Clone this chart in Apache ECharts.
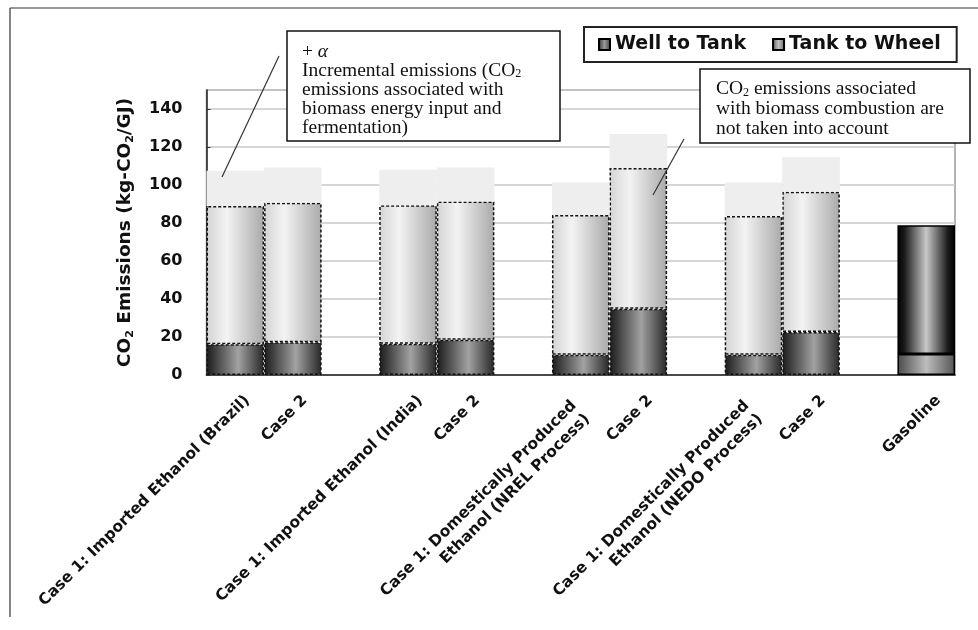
<!DOCTYPE html>
<html><head><meta charset="utf-8">
<script src="https://cdn.jsdelivr.net/npm/echarts@6/dist/echarts.min.js"></script>
<style>html,body{margin:0;padding:0;background:#fff}#c{width:978px;height:630px}</style>
</head><body><div id="c"></div>
<script>
// ---- data ----
const categories = [
  'Case 1: Imported Ethanol (Brazil)', 'Case 2', '',
  'Case 1: Imported Ethanol (India)', 'Case 2', '',
  'Case 1: Domestically Produced\nEthanol (NREL Process)', 'Case 2', '',
  'Case 1: Domestically Produced\nEthanol (NEDO Process)', 'Case 2', '',
  'Gasoline'
];
const wellToTank  = [16.2, 17.3, null, 16.4, 18.5, null, 10.6, 34.9, null, 10.6, 22.6, null, 11.1];
const tankToWheel = [72.8, 73.4, null, 72.9, 72.8, null, 73.6, 74.0, null, 73.1, 73.8, null, 67.7];
const incremental = [18.5, 18.5, null, 18.7, 17.9, null, 17.1, 17.9, null, 17.6, 18.4, null, null];
const legendNames = ['Well to Tank', 'Tank to Wheel'];
const yAxisName = 'CO{s|2} Emissions (kg-CO{s|2}/GJ)';
const note1 = '+ {a|α}\nIncremental emissions (CO{s|2}\nemissions associated with\nbiomass energy input and\nfermentation)';
const note2 = 'CO{s|2} emissions associated\nwith biomass combustion are\nnot taken into account';
const gasolineIndex = 12;

// ---- styles ----
function hgrad(stops) {
  return {type: 'linear', x: 0, y: 0, x2: 1, y2: 0,
    colorStops: stops.map(s => ({offset: s[0], color: s[1]}))};
}
const dash = [3, 2];
const ethDark = {color: hgrad([[0, '#1a1a1a'], [0.55, '#a2a2a2'], [1, '#262626']]), borderColor: '#111', borderWidth: 1.5, borderType: dash};
const ethLight = {color: hgrad([[0, '#d4d4d4'], [0.35, '#f3f3f3'], [1, '#a9a9a9']]), borderColor: '#111', borderWidth: 1.5, borderType: dash};
const gasBottom = {color: hgrad([[0, '#4a4a4a'], [0.5, '#bdbdbd'], [1, '#555']]), borderColor: '#000', borderWidth: 1.5, borderType: 'solid'};
const gasTop = {color: hgrad([[0, '#000'], [0.12, '#1a1a1a'], [0.5, '#c8c8c8'], [0.88, '#1a1a1a'], [1, '#000']]), borderColor: '#000', borderWidth: 1.5, borderType: 'solid'};
const incStyle = {color: '#eeeeee', borderWidth: 0};

function toData(arr, normal, gas) {
  return arr.map((v, i) => v == null ? '-' : {value: v, itemStyle: i === gasolineIndex ? gas : normal});
}

const sans = 'DejaVu Sans';
const serif = 'Liberation Serif';
const xl = {fontFamily: sans, fontWeight: 'bold', fontSize: 15.5, lineHeight: 19, color: '#111'};

function xLabel(v) {
  if (!v) return '';
  if (v.indexOf('\n') >= 0) {
    const p = v.split('\n');
    return '{e| }\n{l|' + p[0] + '}\n{l|' + p[1] + '}';
  }
  return '{one|' + v + '}';
}

const chart = echarts.init(document.getElementById('c'), null, {renderer: 'canvas'});
chart.setOption({
  animation: false,
  backgroundColor: '#fff',
  grid: {left: 206.5, right: 23, top: 90, bottom: 255, show: true, borderColor: '#9a9a9a', borderWidth: 1.5},
  legend: {
    data: legendNames,
    left: 584, top: 27,
    padding: [8, 16, 8, 14],
    itemGap: 26, itemWidth: 11, itemHeight: 11,
    borderColor: '#222', borderWidth: 2,
    icon: 'rect',
    textStyle: {fontFamily: sans, fontWeight: 'bold', fontSize: 19, color: '#111'}
  },
  xAxis: {
    type: 'category', data: categories,
    axisTick: {show: false},
    axisLine: {lineStyle: {color: '#222', width: 1.5}},
    axisLabel: {interval: 0, rotate: 45, margin: 11, fontFamily: sans, fontWeight: 'bold', fontSize: 15.5, lineHeight: 19, color: '#111',
      formatter: xLabel,
      rich: {
        one: Object.assign({padding: [34, 0, 0, 0]}, xl),
        e: {fontFamily: sans, fontSize: 10, lineHeight: 34},
        l: Object.assign({padding: [0, 17, 0, 0]}, xl)
      }}
  },
  yAxis: {
    type: 'value', min: 0, max: 150, interval: 20,
    name: yAxisName, nameLocation: 'middle', nameGap: 71,
    nameTextStyle: {fontFamily: sans, fontWeight: 'bold', fontSize: 18.5, lineHeight: 20, color: '#111',
      rich: {s: {fontFamily: sans, fontWeight: 'bold', fontSize: 11, lineHeight: 8, verticalAlign: 'bottom', color: '#111'}}},
    axisLine: {show: true, lineStyle: {color: '#222', width: 1.5}},
    axisTick: {show: true, inside: true, length: 4, lineStyle: {color: '#333'}},
    axisLabel: {showMaxLabel: false, margin: 24, fontFamily: sans, fontWeight: 'bold', fontSize: 16, color: '#111'},
    splitLine: {lineStyle: {color: '#c8c8c8', width: 1.5}}
  },
  series: [
    {name: legendNames[0], type: 'bar', stack: 'tot', barCategoryGap: '0%', silent: true,
     itemStyle: {color: hgrad([[0, '#2a2a2a'], [0.5, '#9a9a9a'], [1, '#333']]), borderColor: '#000', borderWidth: 1},
     data: toData(wellToTank, ethDark, gasBottom)},
    {name: legendNames[1], type: 'bar', stack: 'tot', barCategoryGap: '0%', silent: true,
     itemStyle: {color: hgrad([[0, '#555'], [0.5, '#c0c0c0'], [1, '#666']]), borderColor: '#000', borderWidth: 1},
     data: toData(tankToWheel, ethLight, gasTop)},
    {name: '+α', type: 'bar', stack: 'tot', barCategoryGap: '0%', silent: true,
     itemStyle: incStyle,
     data: toData(incremental, incStyle, incStyle)}
  ],
  graphic: [
    {type: 'line', z: 100, shape: {x1: 10, y1: 8, x2: 10, y2: 617}, style: {stroke: '#333', lineWidth: 1.2}},
    {type: 'line', z: 100, shape: {x1: 10, y1: 8, x2: 978, y2: 8}, style: {stroke: '#333', lineWidth: 1.2}},
    {type: 'rect', z: 100, shape: {x: 287, y: 31, width: 273, height: 110}, style: {fill: '#fff', stroke: '#111', lineWidth: 1.5}},
    {type: 'text', z: 101, left: 302, top: 41.5, style: {text: note1, fontFamily: serif, fontSize: 19.5, lineHeight: 19, fill: '#111',
      rich: {a: {fontFamily: serif, fontSize: 19.5, fontStyle: 'italic', lineHeight: 19, fill: '#111'},
             s: {fontFamily: serif, fontSize: 12, lineHeight: 8, verticalAlign: 'bottom', fill: '#111'}}}},
    {type: 'rect', z: 100, shape: {x: 700, y: 69, width: 270, height: 74}, style: {fill: '#fff', stroke: '#111', lineWidth: 1.5}},
    {type: 'text', z: 101, left: 716, top: 79, style: {text: note2, fontFamily: serif, fontSize: 19.5, lineHeight: 20, fill: '#111',
      rich: {s: {fontFamily: serif, fontSize: 12, lineHeight: 8, verticalAlign: 'bottom', fill: '#111'}}}},
    {type: 'line', z: 100, shape: {x1: 279, y1: 56, x2: 222, y2: 177}, style: {stroke: '#333', lineWidth: 1.2}},
    {type: 'line', z: 100, shape: {x1: 684, y1: 139, x2: 653, y2: 195}, style: {stroke: '#333', lineWidth: 1.2}}
  ]
});
</script></body></html>
